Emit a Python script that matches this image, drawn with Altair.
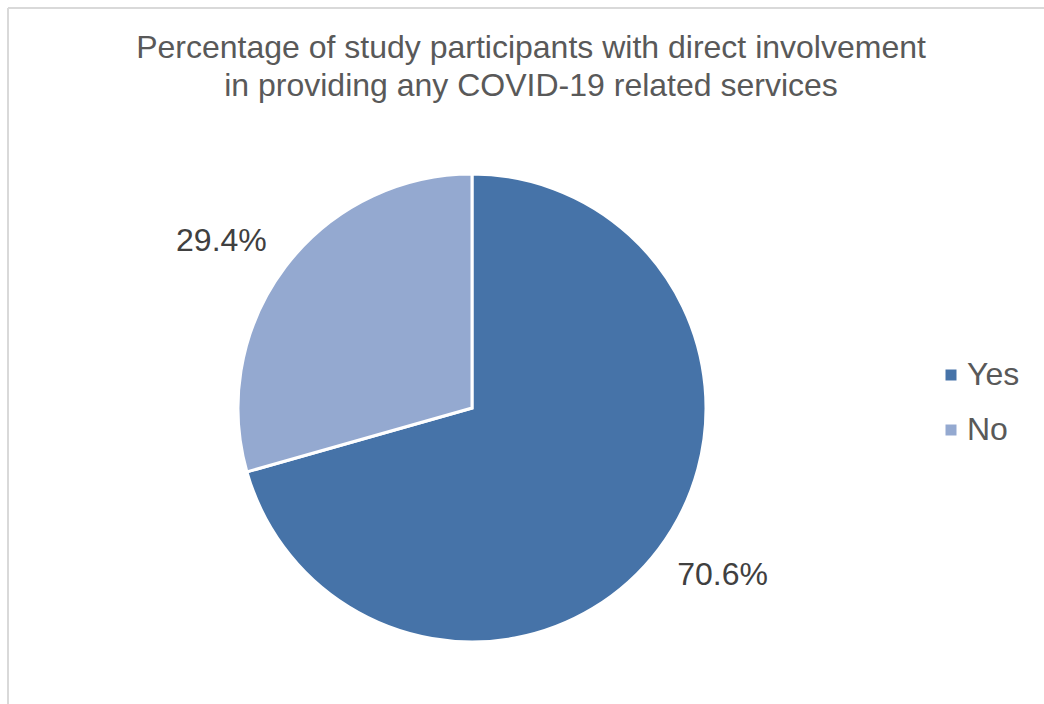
import altair as alt
import pandas as pd

categories = ["Yes", "No"]
values = [70.6, 29.4]
labels = ["70.6%", "29.4%"]
colors = ["#4673A8", "#94A9D0"]
title_lines = ["Percentage of study participants with direct involvement",
               "in providing any COVID-19 related services"]

df = pd.DataFrame({"cat": categories, "val": values, "lab": labels, "ord": [0, 1]})
df_title = pd.DataFrame({"t": ["\n".join(title_lines)]})

FONT = "Liberation Sans"
CX, CY, R = 472, 408, 234

base = alt.Chart(df)

border_left = base.mark_rule(color="#D9D9D9", strokeWidth=2).encode(
    x=alt.value(8), y=alt.value(8), y2=alt.value(704)
)
border_top = base.mark_rule(color="#D9D9D9", strokeWidth=2).encode(
    x=alt.value(8), x2=alt.value(1044), y=alt.value(8)
)

title = alt.Chart(df_title).mark_text(
    fontSize=32, font=FONT, color="#595959", lineBreak="\n", lineHeight=38,
    align="center", baseline="alphabetic",
).encode(text="t:N", x=alt.value(531), y=alt.value(58))

pie = base.mark_arc(stroke="white", strokeWidth=3, outerRadius=R).encode(
    theta=alt.Theta("val:Q", stack=True),
    color=alt.Color(
        "cat:N",
        scale=alt.Scale(domain=categories, range=colors),
        legend=alt.Legend(
            title=None,
            orient="none",
            legendX=935,
            legendY=359,
            symbolType="square",
            symbolSize=121,
            symbolStrokeWidth=0,
            labelFontSize=32,
            labelFont=FONT,
            labelColor="#595959",
            rowPadding=23,
            labelOffset=0,
        ),
    ),
    order=alt.Order("ord:Q"),
    x=alt.value(CX),
    y=alt.value(CY),
)

text = base.mark_text(fontSize=32, font=FONT, color="#404040", radius=301).encode(
    theta=alt.Theta("val:Q", stack=True,
                    scale=alt.Scale(range=[-0.06, 6.2232])),
    order=alt.Order("ord:Q"),
    text="lab:N",
    x=alt.value(CX),
    y=alt.value(CY),
)

chart = alt.layer(border_left, border_top, title, pie, text).resolve_scale(
    theta="independent"
).properties(
    width=1044,
    height=704,
    padding=0,
    autosize=alt.AutoSizeParams(type="none"),
    background="white",
).configure_view(stroke=None)

chart.save("out.html", embed_options={"renderer": "svg", "actions": False})
